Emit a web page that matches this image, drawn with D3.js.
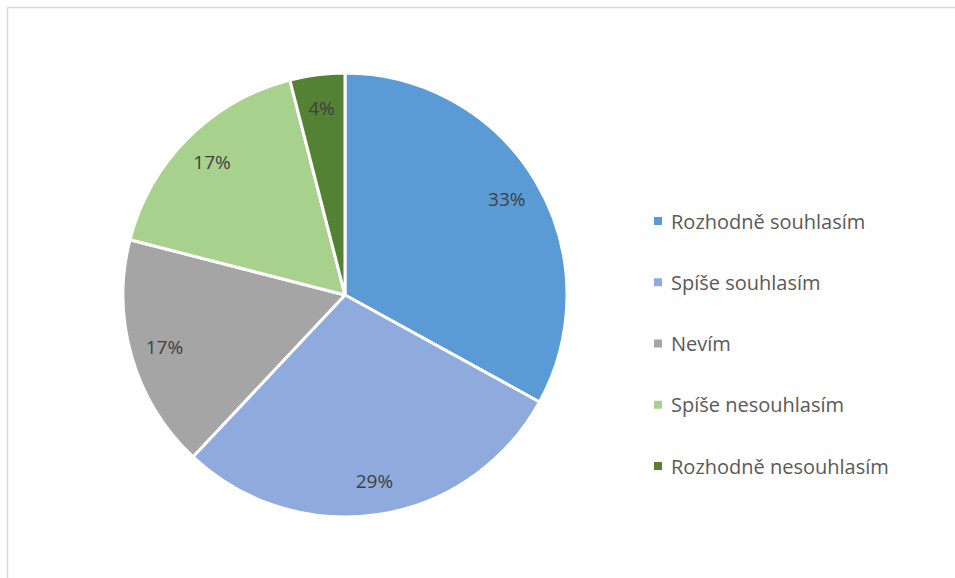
<!DOCTYPE html>
<html><head><meta charset="utf-8">
<script src="https://cdn.jsdelivr.net/npm/d3@7"></script>
<style>body{margin:0;background:#fff;} svg{display:block;}</style>
</head><body>
<svg id="c" width="955" height="578"></svg>
<script>
const categories = ["Rozhodně souhlasím","Spíše souhlasím","Nevím","Spíše nesouhlasím","Rozhodně nesouhlasím"];
const values = [33, 29, 17, 17, 4];
const labels = ["33%","29%","17%","17%","4%"];
const colors = ["#5B9BD5","#8FAADC","#A5A5A5","#A9D18E","#548235"];

const svg = d3.select("#c");
svg.append("line").attr("x1",7.5).attr("y1",7.5).attr("x2",955).attr("y2",7.5).attr("stroke","#d9d9d9").attr("stroke-width",1.5);
svg.append("line").attr("x1",7.5).attr("y1",7.5).attr("x2",7.5).attr("y2",578).attr("stroke","#d9d9d9").attr("stroke-width",1.5);

const cx = 345, cy = 295, R = 222;
const pie = d3.pie().sort(null).value(d => d)(values);
const arc = d3.arc().innerRadius(0).outerRadius(R);
const lblArc = d3.arc().innerRadius(188).outerRadius(188);
const g = svg.append("g").attr("transform", `translate(${cx},${cy})`);
g.selectAll("path").data(pie).join("path")
  .attr("d", arc).attr("fill", (d,i) => colors[i])
  .attr("stroke","#fff").attr("stroke-width",3).attr("stroke-linejoin","round");
g.selectAll("text").data(pie).join("text")
  .attr("transform", d => `translate(${lblArc.centroid(d)})`)
  .attr("text-anchor","middle").attr("dominant-baseline","central")
  .attr("font-family","'Open Sans', sans-serif").attr("font-size",19)
  .attr("fill","#404040").text((d,i) => labels[i]);

const y = d3.scalePoint().domain(categories).range([221, 466]);
const lg = svg.append("g");
lg.selectAll("rect").data(categories).join("rect")
  .attr("x",654).attr("y", d => y(d)-4).attr("width",8).attr("height",8)
  .attr("fill",(d,i)=>colors[i]);
lg.selectAll("text").data(categories).join("text")
  .attr("x",671).attr("y", d => y(d)).attr("dominant-baseline","central")
  .attr("font-family","'Open Sans', sans-serif").attr("font-size",20)
  .attr("fill","#595959").text(d => d);
</script>
</body></html>
